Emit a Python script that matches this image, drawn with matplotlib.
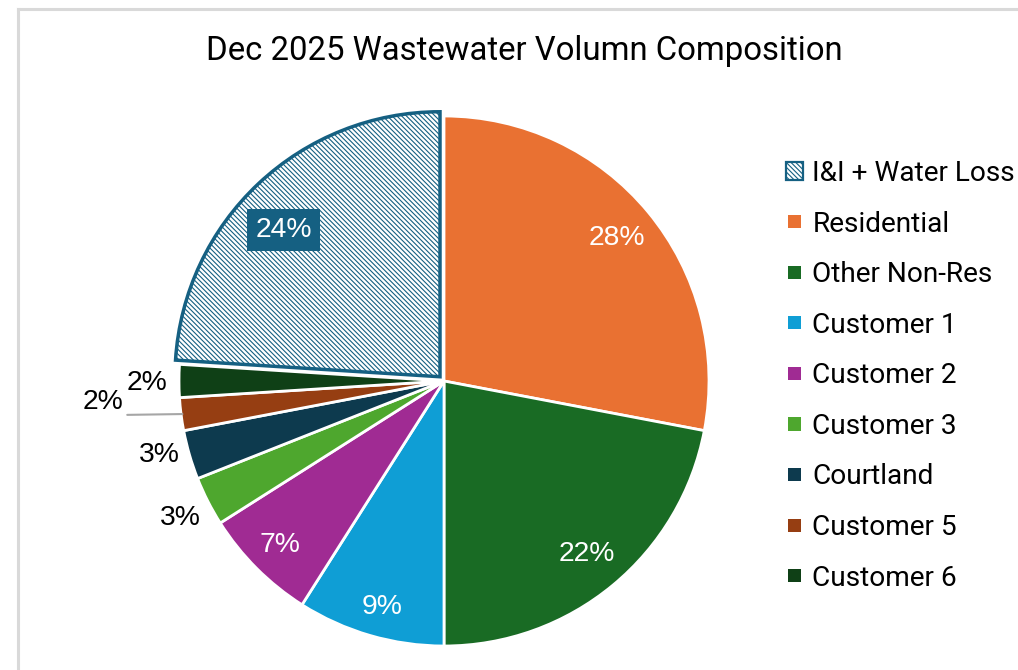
import matplotlib
matplotlib.use("Agg")
import matplotlib.pyplot as plt
from matplotlib.patches import Rectangle
from matplotlib.legend_handler import HandlerPatch
from matplotlib.lines import Line2D
import numpy as np

# ---- data ----
categories = ["I&I + Water Loss", "Residential", "Other Non-Res", "Customer 1",
              "Customer 2", "Customer 3", "Courtland", "Customer 5", "Customer 6"]
shares = [24, 28, 22, 9, 7, 3, 3, 2, 2]
colors = ["#FFFFFF", "#E97132", "#196B24", "#0F9ED5", "#A02B93", "#4EA72E",
          "#0D3A4E", "#963E12", "#0F4016"]
title = "Dec 2025 Wastewater Volumn Composition"

# label styling (distance from centre as fraction of radius, angular nudge in deg)
label_dist = [0.81, 0.845, 0.845, 0.885, 0.875, 1.12, 1.11, 1.29, 1.12]
label_nudge = [3.6, 0, 0, 0.9, 0, 0.4, -1.6, -3.7, 0.4]
label_inside = [True, True, True, True, True, False, False, False, False]

plt.rcParams["hatch.linewidth"] = 0.8

W, H = 1018, 670
fig = plt.figure(figsize=(W / 100, H / 100), dpi=100)
fig.patch.set_facecolor("white")

cx, cy, R = 444, 670 - 381, 265
ax = fig.add_axes([(cx - R) / W, (cy - R) / H, 2 * R / W, 2 * R / H])
ax.axis("off")

total = float(sum(shares))
start = 90 + 360 * shares[0] / total
explode = [0.022] + [0] * (len(shares) - 1)
wedges, _ = ax.pie(shares, colors=colors, startangle=start, counterclock=False,
                   explode=explode, radius=1,
                   wedgeprops=dict(edgecolor="white", linewidth=2))
ax.set_xlim(-1, 1)
ax.set_ylim(-1, 1)
ax.set_aspect("equal")
for w in wedges:
    w.set_clip_on(False)

ii = wedges[0]
ii.set_edgecolor("#156082")
ii.set_linewidth(2.5)
ii.set_hatch("\\" * 7)

lab_font = "Liberation Sans"
fs = 20.3
for i, (w, s) in enumerate(zip(wedges, shares)):
    ang = np.deg2rad((w.theta1 + w.theta2) / 2 + label_nudge[i])
    ox, oy = w.center
    d = label_dist[i]
    x = ox + d * np.cos(ang)
    y = oy + d * np.sin(ang)
    txt = f"{s:.0f}%"
    if i == 0:
        ax.text(x, y, txt, ha="center", va="center", color="white",
                fontsize=fs, family=lab_font,
                bbox=dict(boxstyle="square,pad=0.28", fc="#156082", ec="none"))
    elif label_inside[i]:
        ax.text(x, y, txt, ha="center", va="center", color="white",
                fontsize=fs, family=lab_font)
    elif i == 7:
        a_edge = np.deg2rad((w.theta1 + w.theta2) / 2)
        ex = 0.995 * np.cos(a_edge)
        ey = 0.995 * np.sin(a_edge)
        ax.annotate(txt, xy=(ex, ey), xytext=(x, y), ha="center", va="center",
                    fontsize=fs, family=lab_font, color="#000000",
                    arrowprops=dict(arrowstyle="-", color="#A6A6A6", lw=1.5,
                                    relpos=(1.1, 0.0), shrinkA=0, shrinkB=0))
    else:
        ax.text(x, y, txt, ha="center", va="center", color="#000000",
                fontsize=fs, family=lab_font)

# title
fig.text(524 / W, 1 - 60 / H, title, ha="center", va="baseline",
         fontsize=23.7, family="Roboto", color="#000000")


class SquareHandler(HandlerPatch):
    def __init__(self, size_pt, lw=None, **kw):
        super().__init__(**kw)
        self.size_pt = size_pt
        self.lw = lw

    def create_artists(self, legend, orig_handle, xdescent, ydescent,
                       width, height, fontsize, trans):
        s = self.size_pt
        mx = -xdescent + width / 2
        my = -ydescent + height / 2
        p = Rectangle((mx - s / 2, my - s / 2), s, s)
        self.update_prop(p, orig_handle, legend)
        if self.lw is not None:
            p.set_linewidth(self.lw)
        p.set_transform(trans)
        return [p]


hmap = {}
for i, w in enumerate(wedges):
    hmap[w] = SquareHandler(12.5, lw=1.6) if i == 0 else SquareHandler(9.5, lw=0)

leg = fig.legend(wedges, categories, loc="upper left",
                 bbox_to_anchor=(785 / W, 1 - 160 / H),
                 frameon=False, borderpad=0, borderaxespad=0,
                 handlelength=0.68, handleheight=0.7, handletextpad=0.3,
                 labelspacing=0.84, handler_map=hmap,
                 prop=dict(family="Roboto", size=20.2))

# frame lines of chart area
fig.add_artist(Line2D([17.5 / W, 17.5 / W], [0, 1 - 8.5 / H], color="#D9D9D9", lw=2.2))
fig.add_artist(Line2D([17.5 / W, 1], [1 - 8.5 / H, 1 - 8.5 / H], color="#D9D9D9", lw=2.2))

fig.savefig("out.png", dpi=100, facecolor="white")
